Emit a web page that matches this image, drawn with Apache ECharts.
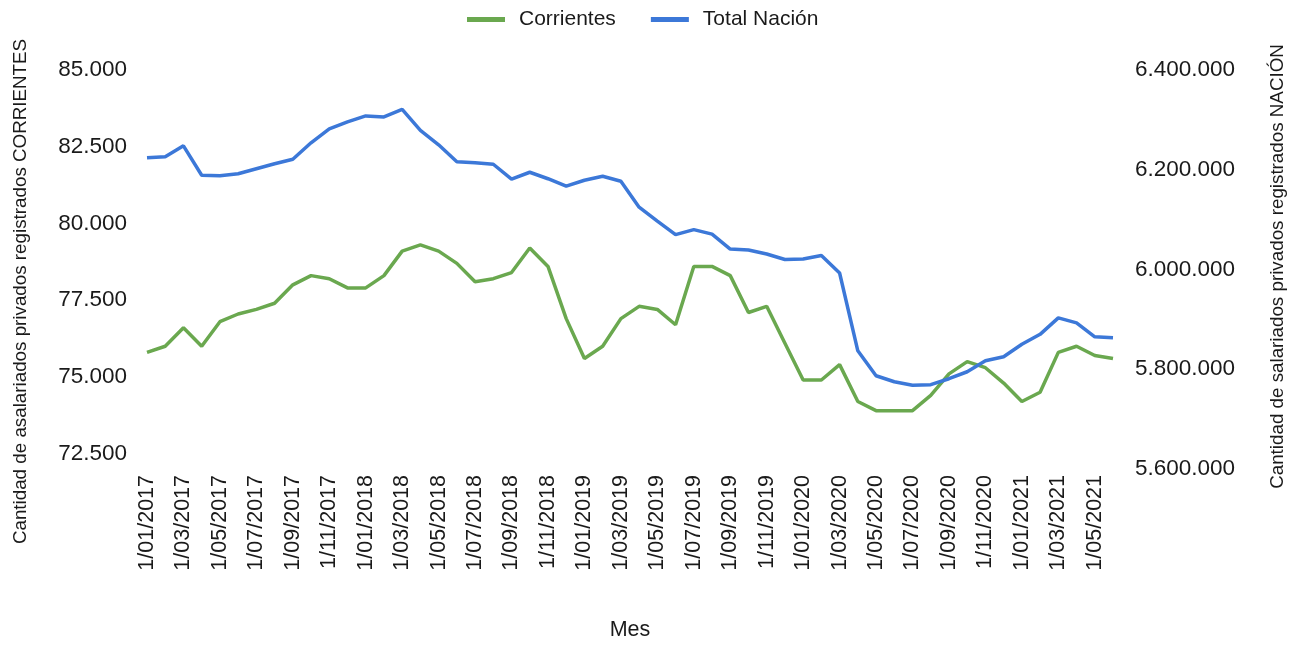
<!DOCTYPE html>
<html>
<head>
<meta charset="utf-8">
<script src="https://cdn.jsdelivr.net/npm/echarts@6/dist/echarts.min.js"></script>
<style>
  html, body { margin: 0; padding: 0; background: #fff; }
  #chart { width: 1297px; height: 646px; }
</style>
</head>
<body>
<div id="chart"></div>
<script>
// meses 1/01/2017 .. 1/06/2021
const meses = [
  '1/01/2017','1/02/2017','1/03/2017','1/04/2017','1/05/2017','1/06/2017',
  '1/07/2017','1/08/2017','1/09/2017','1/10/2017','1/11/2017','1/12/2017',
  '1/01/2018','1/02/2018','1/03/2018','1/04/2018','1/05/2018','1/06/2018',
  '1/07/2018','1/08/2018','1/09/2018','1/10/2018','1/11/2018','1/12/2018',
  '1/01/2019','1/02/2019','1/03/2019','1/04/2019','1/05/2019','1/06/2019',
  '1/07/2019','1/08/2019','1/09/2019','1/10/2019','1/11/2019','1/12/2019',
  '1/01/2020','1/02/2020','1/03/2020','1/04/2020','1/05/2020','1/06/2020',
  '1/07/2020','1/08/2020','1/09/2020','1/10/2020','1/11/2020','1/12/2020',
  '1/01/2021','1/02/2021','1/03/2021','1/04/2021','1/05/2021','1/06/2021'
]

const corrientes = [
  75800, 76000, 76600, 76000, 76800, 77050, 77200, 77400, 78000, 78300, 78200, 77900,
  77900, 78300, 79100, 79300, 79100, 78700, 78100, 78200, 78400, 79200, 78600, 76900,
  75600, 76000, 76900, 77300, 77200, 76700, 78600, 78600, 78300, 77100, 77300, 76100,
  74900, 74900, 75400, 74200, 73900, 73900, 73900, 74400, 75100, 75500, 75300, 74800,
  74200, 74500, 75800, 76000, 75700, 75600
]

const totalNacion = [
  6224000, 6226000, 6248000, 6189000, 6188000, 6192000, 6202000, 6212000, 6221000, 6254000, 6282000, 6296000,
  6308000, 6306000, 6321000, 6279000, 6250000, 6216000, 6214000, 6211000, 6181000, 6195000, 6182000, 6167000,
  6179000, 6187000, 6177000, 6125000, 6097000, 6070000, 6080000, 6071000, 6041000, 6039000, 6031000, 6020000,
  6021000, 6028000, 5993000, 5837000, 5787000, 5775000, 5768000, 5769000, 5781000, 5795000, 5817000, 5825000,
  5850000, 5870000, 5903000, 5893000, 5865000, 5863000
]

// etiquetas del eje izquierdo (el eje arranca en 72.000)
const ticksCorrientes = [72500, 75000, 77500, 80000, 82500, 85000]

const FONT = '"Liberation Sans", Arial, sans-serif'
const INK = '#1a1a1a'

function miles(v) {
  return String(Math.round(v)).replace(/\B(?=(\d{3})+(?!\d))/g, '.')
}

const chart = echarts.init(document.getElementById('chart'))

chart.setOption({
  backgroundColor: '#ffffff',
  animation: false,
  textStyle: { fontFamily: FONT },
  legend: {
    top: 4,
    left: 462,
    icon: 'rect',
    itemWidth: 38, itemHeight: 5,
    itemGap: 35,
    textStyle: { color: INK, fontSize: 21, fontFamily: FONT, padding: [0, 0, 0, 9] },
    data: ['Corrientes', 'Total Nación']
  },
  grid: { left: 147, right: 184, top: 70, bottom: 176 },
  xAxis: {
    type: 'category',
    data: meses,
    boundaryGap: false,
    name: 'Mes',
    nameLocation: 'middle',
    nameGap: 150,
    nameTextStyle: { color: INK, fontSize: 21.5, fontFamily: FONT },
    axisLine: { show: false },
    axisTick: { show: false },
    axisLabel: { interval: 1, rotate: 90, margin: 6, color: INK, fontSize: 21.5, fontFamily: FONT },
    splitLine: { show: false }
  },
  yAxis: [
    {
      type: 'value',
      position: 'left',
      min: 72000, max: 85000,
      name: 'Cantidad de asalariados privados registrados CORRIENTES',
      nameLocation: 'middle',
      nameRotate: 90,
      nameGap: 117,
      nameTextStyle: { color: INK, fontSize: 18.8, fontFamily: FONT, padding: [0, 44, 0, 0] },
      axisLine: { show: false },
      axisTick: { show: false },
      splitLine: { show: false },
      axisLabel: {
        customValues: ticksCorrientes,
        margin: 20, color: INK, fontSize: 22.5, fontFamily: FONT,
        formatter: miles
      }
    },
    {
      type: 'value',
      position: 'right',
      min: 5600000, max: 6400000, interval: 200000,
      name: 'Cantidad de salariados privados registrados NACIÓN',
      nameLocation: 'middle',
      nameRotate: 90,
      nameGap: 155,
      nameTextStyle: { color: INK, fontSize: 18.8, fontFamily: FONT, padding: [0, 0, 0, 6] },
      axisLine: { show: false },
      axisTick: { show: false },
      splitLine: { show: false },
      axisLabel: { margin: 22, color: INK, fontSize: 22.5, fontFamily: FONT, formatter: miles }
    }
  ],
  series: [
    {
      name: 'Corrientes', type: 'line', yAxisIndex: 0,
      data: corrientes,
      symbol: 'none',
      lineStyle: { color: '#6aa84f', width: 3.5 },
      itemStyle: { color: '#6aa84f' }
    },
    {
      name: 'Total Nación', type: 'line', yAxisIndex: 1,
      data: totalNacion,
      symbol: 'none',
      lineStyle: { color: '#3c78d8', width: 3.5 },
      itemStyle: { color: '#3c78d8' }
    }
  ]
})
</script>
</body>
</html>
